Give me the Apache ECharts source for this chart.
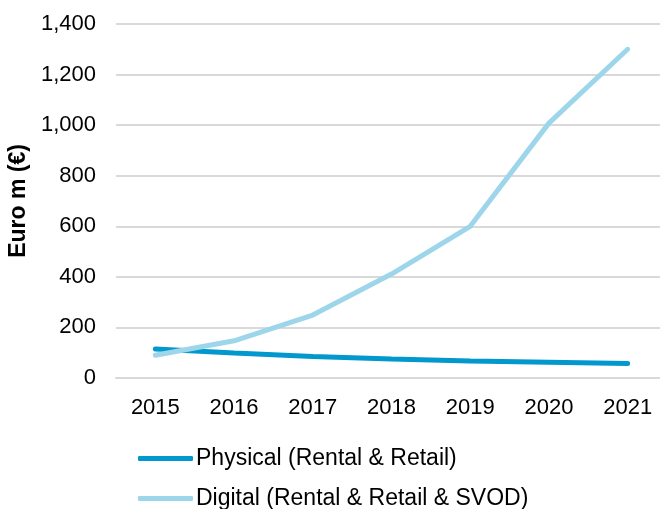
<!DOCTYPE html>
<html>
<head>
<meta charset="utf-8">
<script src="https://cdn.jsdelivr.net/npm/echarts@6/dist/echarts.min.js"></script>
<style>
  html, body { margin: 0; padding: 0; background: #fff; }
  #chart { width: 660px; height: 509px; }
</style>
</head>
<body>
<div id="chart"></div>
<script>
// 年份
var years = ["2015", "2016", "2017", "2018", "2019", "2020", "2021"];
// 实体（租赁 + 零售）
var physical = [115, 99, 85, 75, 67, 62, 57];
// 数字（租赁 + 零售 + SVOD）
var digital = [90, 147, 249, 411, 600, 1008, 1300];

var font = "Liberation Sans, Arial, sans-serif";
var legendText = { fontFamily: font, fontSize: 23, color: "#000", padding: [0, 0, 0, -2] };

var myChart = echarts.init(document.getElementById("chart"));
var option = {
  animation: false,
  grid: {
    left: 116,
    top: 24,
    width: 551,
    height: 354,
    containLabel: false,
    outerBoundsMode: "none"
  },
  // 两行图例，分开写
  legend: [
    {
      left: 138,
      top: 447,
      padding: 0,
      itemWidth: 55,
      itemHeight: 5,
      icon: "roundRect",
      textStyle: legendText,
      data: ["Physical (Rental & Retail)"]
    },
    {
      left: 138,
      top: 487,
      padding: 0,
      itemWidth: 55,
      itemHeight: 5,
      icon: "roundRect",
      textStyle: legendText,
      data: ["Digital (Rental & Retail & SVOD)"]
    }
  ],
  xAxis: {
    type: "category",
    data: years,
    boundaryGap: true,
    axisLine: { lineStyle: { color: "#d9d9d9", width: 2 } },
    axisTick: { show: false },
    axisLabel: { fontFamily: font, fontSize: 22, color: "#000", margin: 19 }
  },
  yAxis: {
    type: "value",
    min: 0,
    max: 1400,
    interval: 200,
    name: "Euro m (€)",
    nameLocation: "middle",
    nameGap: 81,
    nameTextStyle: { fontFamily: font, fontSize: 23, fontWeight: "bold", color: "#000" },
    axisLine: { show: false },
    axisTick: { show: false },
    splitLine: { lineStyle: { color: "#d9d9d9", width: 2 } },
    axisLabel: {
      fontFamily: font, fontSize: 22, color: "#000", margin: 20,
      formatter: function (v) { return v.toLocaleString("en-US"); }
    }
  },
  series: [
    {
      name: "Physical (Rental & Retail)",
      type: "line",
      data: physical,
      showSymbol: false,
      symbol: "none",
      lineStyle: { color: "#0098cd", width: 5, cap: "round" },
      itemStyle: { color: "#0098cd" }
    },
    {
      name: "Digital (Rental & Retail & SVOD)",
      type: "line",
      data: digital,
      showSymbol: false,
      symbol: "none",
      lineStyle: { color: "#9dd6ea", width: 5, cap: "round" },
      itemStyle: { color: "#9dd6ea" }
    }
  ]
};
myChart.setOption(option);
</script>
</body>
</html>
